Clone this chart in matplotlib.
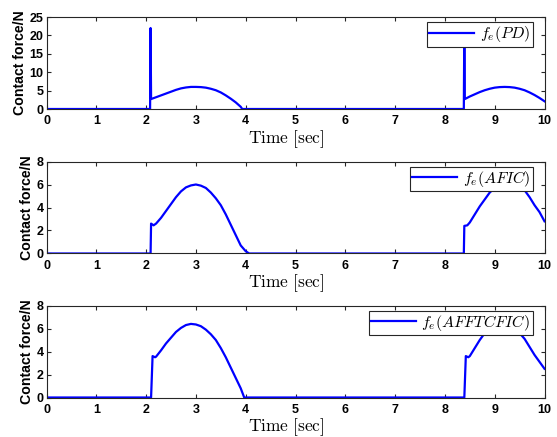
import numpy as np
import matplotlib
matplotlib.use("Agg")
import matplotlib.pyplot as plt

plt.rcParams['mathtext.fontset'] = 'cm'
plt.rcParams['font.family'] = ['Liberation Sans', 'DejaVu Sans']
plt.rcParams['font.weight'] = 'bold'

# PD controller contact force
t_pd = [0, 2.08, 2.09, 2.1, 2.2, 2.3, 2.4, 2.5, 2.6, 2.7, 2.8, 2.9, 3.0, 3.1, 3.2,
        3.3, 3.4, 3.5, 3.6, 3.7, 3.8, 3.9, 3.93, 8.38, 8.39, 8.4, 8.5, 8.6, 8.7,
        8.8, 8.9, 9.0, 9.1, 9.2, 9.3, 9.4, 9.5, 9.6, 9.7, 9.8, 9.9, 10.0]
f_pd = [0, 0, 22.0, 2.7, 3.2, 3.7, 4.2, 4.7, 5.2, 5.6, 5.85, 6.0, 6.0, 5.95, 5.8,
        5.5, 5.1, 4.5, 3.7, 2.8, 1.8, 0.6, 0, 0, 22.0, 2.7, 3.4, 4.0, 4.6,
        5.1, 5.5, 5.8, 5.95, 6.0, 5.95, 5.8, 5.5, 5.1, 4.5, 3.8, 3.0, 2.1]

# AFIC contact force
t_afic = [0, 2.09, 2.1, 2.15, 2.2, 2.3, 2.4, 2.5, 2.6, 2.7, 2.8, 2.9, 3.0, 3.1,
          3.2, 3.3, 3.4, 3.5, 3.6, 3.7, 3.8, 3.9, 4.0, 4.07, 8.38, 8.39, 8.45,
          8.5, 8.6, 8.7, 8.8, 8.9, 9.0, 9.1, 9.2, 9.3, 9.4, 9.5, 9.6, 9.7, 9.8,
          9.9, 10.0]
f_afic = [0, 0, 2.6, 2.45, 2.6, 3.1, 3.7, 4.3, 4.9, 5.4, 5.75, 5.92, 6.0, 5.9,
          5.7, 5.3, 4.8, 4.2, 3.4, 2.5, 1.6, 0.7, 0.2, 0, 0, 2.4, 2.45,
          2.7, 3.4, 4.1, 4.7, 5.3, 5.7, 5.9, 6.0, 6.0, 5.9, 5.7, 5.5, 4.9, 4.2,
          3.6, 2.8]

# AFFTCFIC contact force
t_aff = [0, 2.1, 2.13, 2.18, 2.2, 2.3, 2.4, 2.5, 2.6, 2.7, 2.8, 2.9, 3.0, 3.1,
         3.2, 3.3, 3.4, 3.5, 3.6, 3.7, 3.8, 3.9, 3.97, 8.39, 8.42, 8.47, 8.5,
         8.6, 8.7, 8.8, 8.9, 9.0, 9.1, 9.2, 9.3, 9.4, 9.5, 9.6, 9.7, 9.8, 9.9, 10.0]
f_aff = [0, 0, 3.6, 3.5, 3.55, 4.1, 4.7, 5.2, 5.7, 6.05, 6.3, 6.4, 6.35, 6.2,
         5.9, 5.5, 5.0, 4.3, 3.5, 2.6, 1.7, 0.8, 0, 0, 3.6, 3.5, 3.6,
         4.3, 5.0, 5.6, 6.1, 6.35, 6.4, 6.35, 6.2, 5.95, 5.6, 5.1, 4.4, 3.7, 3.1, 2.5]

series = [(t_pd, f_pd, r'$f_e(PD)$', 25, [0, 5, 10, 15, 20, 25]),
          (t_afic, f_afic, r'$f_e(AFIC)$', 8, [0, 2, 4, 6, 8]),
          (t_aff, f_aff, r'$f_e(AFFTCFIC)$', 8, [0, 2, 4, 6, 8])]

W, H = 557, 437
fig = plt.figure(figsize=(W / 100, H / 100), dpi=100)
ax_left, ax_w, ax_h = 46.5, 498, 92
ax_bottoms = [109, 253.5, 397.5]  # pixel rows of the x axes
for (t, f, lab, ymax, yt), yb in zip(series, ax_bottoms):
    ax = fig.add_axes([ax_left / W, 1 - yb / H, ax_w / W, ax_h / H])
    ax.plot(t, f, color=(0, 0, 1), lw=1.6, label=lab)
    ax.set_xlim(0, 10)
    ax.set_ylim(0, ymax)
    ax.set_xticks(range(0, 11))
    ax.set_yticks(yt)
    ax.tick_params(direction='in', top=True, right=True, length=3,
                   labelsize=9, width=0.8, color='#262626', labelcolor='black')
    ax.tick_params(axis='x', pad=4.5)
    ax.tick_params(axis='y', pad=2)
    for s in ax.spines.values():
        s.set_color('#262626')
        s.set_linewidth(0.8)
    ax.set_ylabel('Contact force/N', fontsize=10.2, fontweight='bold', labelpad=2)
    ax.set_xlabel(r'$\mathrm{Time\ [sec]}$', fontsize=12.5)
    ax.xaxis.set_label_coords(0.481, -30 / ax_h)
    ax.xaxis.label.set_va('center')
    leg = ax.legend(loc='upper right', fontsize=11.5, fancybox=False,
                    edgecolor='#262626', framealpha=1, handlelength=2.8,
                    handletextpad=0.35, borderaxespad=0, borderpad=0.15,
                    bbox_to_anchor=(1 - 12 / ax_w, 1 - 5 / ax_h))
    leg.get_frame().set_linewidth(0.8)

fig.savefig('out.png', dpi=100)
